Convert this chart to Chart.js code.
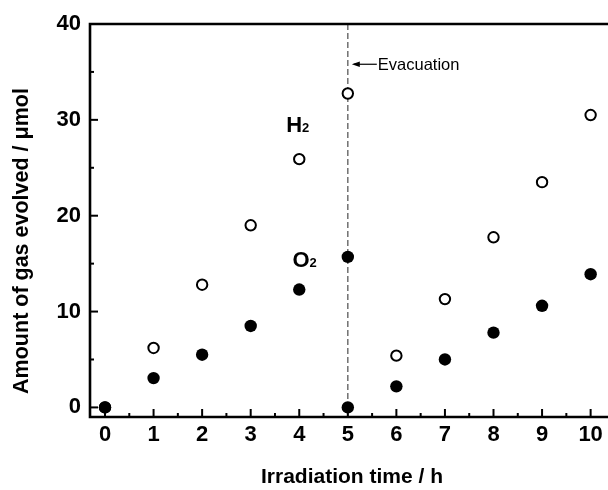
<!DOCTYPE html>
<html><head><meta charset="utf-8">
<script src="https://cdn.jsdelivr.net/npm/chart.js@4.4.1/dist/chart.umd.min.js"></script>
<style>html,body{margin:0;padding:0;background:#fff;}#wrap{width:608px;height:490px;}</style>
</head><body><div id="wrap"><canvas id="c" width="608" height="490"></canvas></div>
<script>
const timeH = [0,1,2,3,4,5,6,7,8,9,10];
const h2Time = [0,1,2,3,4,5,6,7,8,9,10];
const h2Values = [0,6.2,12.8,19.0,25.9,32.75,5.4,11.3,17.75,23.5,30.5];
const o2Time = [0,1,2,3,4,5,5,6,7,8,9,10];
const o2Values = [0,3.06,5.5,8.5,12.3,15.7,0,2.2,5.0,7.8,10.6,13.9];
const xTickLabels = ['0','1','2','3','4','5','6','7','8','9','10'];
const yTickValues = [0,10,20,30,40];
const evacuationTime = 5;
const xTitle = 'Irradiation time / h';
const yTitle = 'Amount of gas evolved / \u03bcmol';

const toPts = (xs, ys) => xs.map((x,i)=>({x:x,y:ys[i]}));
const FONT = "'Liberation Sans', Arial, sans-serif";

const decor = {
  id:'decor',
  beforeDatasetsDraw(chart){
    const {ctx, chartArea:a, scales:{x}} = chart;
    ctx.save();
    const ex = x.getPixelForValue(evacuationTime);
    ctx.strokeStyle='#666'; ctx.lineWidth=1.4; ctx.setLineDash([6,3]);
    ctx.beginPath(); ctx.moveTo(ex,a.top); ctx.lineTo(ex,a.bottom); ctx.stroke();
    ctx.restore();
  },
  afterDatasetsDraw(chart){
    const {ctx, chartArea:a, scales:{x,y}} = chart;
    const W = chart.width;
    ctx.save();
    ctx.strokeStyle='#000'; ctx.lineWidth=2.6;
    ctx.beginPath();
    ctx.moveTo(W,a.top); ctx.lineTo(a.left,a.top); ctx.lineTo(a.left,a.bottom); ctx.lineTo(W,a.bottom);
    ctx.stroke();
    ctx.lineWidth=2;
    for(let v=0; v<=40; v+=5){
      const py=y.getPixelForValue(v); const len = v%10===0?8:4;
      ctx.beginPath(); ctx.moveTo(a.left,py); ctx.lineTo(a.left+len,py); ctx.stroke();
    }
    for(let v=0; v<=10.01; v+=0.5){
      const px=x.getPixelForValue(v); const len = Math.abs(v-Math.round(v))<0.01?8:4;
      ctx.beginPath(); ctx.moveTo(px,a.bottom); ctx.lineTo(px,a.bottom-len); ctx.stroke();
    }
    ctx.fillStyle='#000'; ctx.textBaseline='alphabetic'; ctx.textAlign='left';
    function chem(main, sub, vx, vy){
      const px=x.getPixelForValue(vx), py=y.getPixelForValue(vy);
      ctx.font='bold 22px '+FONT; ctx.fillText(main,px,py);
      const w=ctx.measureText(main).width;
      ctx.font='bold 13px '+FONT; ctx.fillText(sub,px+w,py);
    }
    chem('H','2',3.73,28.7);
    chem('O','2',3.86,14.65);
    const ex=x.getPixelForValue(evacuationTime), ey=y.getPixelForValue(35.8);
    ctx.lineWidth=1.2; ctx.beginPath(); ctx.moveTo(ex+6,ey); ctx.lineTo(ex+29,ey); ctx.stroke();
    ctx.beginPath(); ctx.moveTo(ex+4,ey); ctx.lineTo(ex+12,ey-2.8); ctx.lineTo(ex+12,ey+2.8); ctx.closePath(); ctx.fill();
    ctx.font='16.5px '+FONT; ctx.textBaseline='middle'; ctx.fillText('Evacuation',ex+30,ey+1);
    ctx.font='bold 21px '+FONT; ctx.textAlign='center'; ctx.textBaseline='middle';
    ctx.fillText(xTitle, 352, 477);
    ctx.save(); ctx.translate(22,241); ctx.rotate(-Math.PI/2);
    ctx.font='bold 21.5px '+FONT; ctx.fillText(yTitle,0,0); ctx.restore();
    ctx.restore();
  }
};

new Chart(document.getElementById('c'), {
  type:'scatter',
  data:{datasets:[
    {label:'O2', data:toPts(o2Time,o2Values), pointRadius:6.2, pointBorderWidth:0, pointBackgroundColor:'#000', pointBorderColor:'#000'},
    {label:'H2', data:toPts(h2Time,h2Values), pointRadius:5.2, pointBorderWidth:2, pointBackgroundColor:'#fff', pointBorderColor:'#000'}
  ]},
  options:{
    responsive:false, animation:false,
    layout:{padding:{left:0,right:0,top:24,bottom:0}},
    plugins:{legend:{display:false}, tooltip:{enabled:false}},
    scales:{
      x:{type:'linear', min:-0.309, max:10.206,
        afterBuildTicks:s=>{s.ticks=timeH.map(v=>({value:v}));},
        afterFit:s=>{s.height=73;},
        grid:{display:false, drawTicks:false}, border:{display:false},
        ticks:{padding:5, color:'#000', font:{family:FONT,size:22,weight:'bold'}, maxRotation:0, autoSkip:false,
          callback:(v)=>xTickLabels[timeH.indexOf(v)] ?? ''}
      },
      y:{type:'linear', min:-1, max:40,
        afterBuildTicks:s=>{s.ticks=yTickValues.map(v=>({value:v}));},
        afterFit:s=>{s.width=90;},
        grid:{display:false, drawTicks:false}, border:{display:false},
        ticks:{padding:9, color:'#000', font:{family:FONT,size:22,weight:'bold'}}
      }
    }
  },
  plugins:[decor]
});
</script></body></html>
